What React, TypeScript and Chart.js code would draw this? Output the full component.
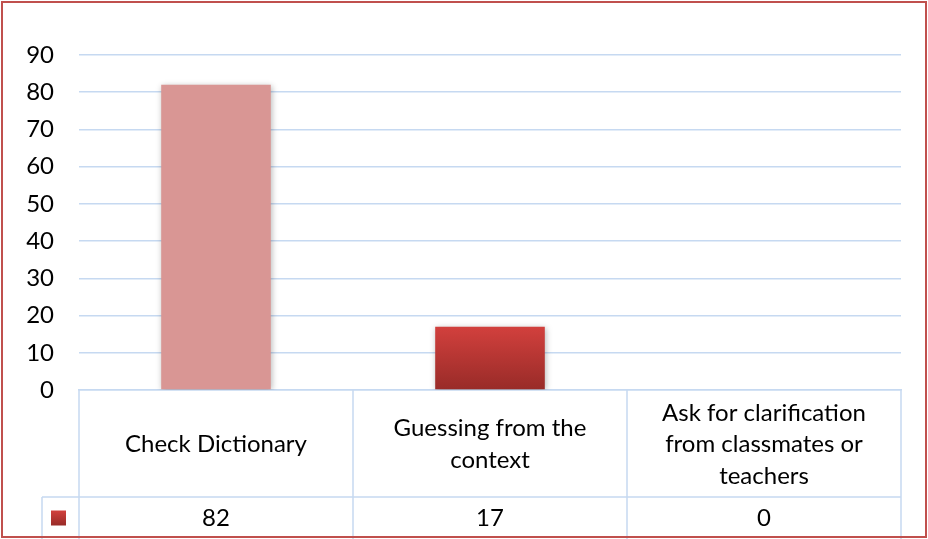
import { useEffect, useRef } from "react";
import { Chart, registerables } from "chart.js";

Chart.register(...registerables);

// ---- data ----
const categories: string[][] = [
  ["Check Dictionary"],
  ["Guessing from the", "context"],
  ["Ask for clarification", "from classmates or", "teachers"],
];
const values: number[] = [82, 17, 0];
const yMin = 0;
const yMax = 90;
const yStep = 10;

// ---- styles ----
const FONT = "Lato, 'Liberation Sans', sans-serif";
const FONT_SIZE = 24;
const TEXT = "#000000";
const GRID = "#C6D9F1";
const BAR1 = "#D99694";
const RED_TOP = "#D2403D";
const RED_BOTTOM = "#982B28";
const FRAME = "#C0504D";

const tablePlugin = {
  id: "dataTable",
  beforeDatasetsDraw(chart: any) {
    const ctx = chart.ctx;
    ctx.save();
    ctx.shadowColor = "rgba(0,0,0,0.28)";
    ctx.shadowBlur = 6;
    ctx.shadowOffsetX = 1;
    ctx.shadowOffsetY = 1;
  },
  afterDatasetsDraw(chart: any) {
    chart.ctx.restore();
  },
  afterDraw(chart: any) {
    const ctx = chart.ctx;
    const xs = chart.scales.x;
    const area = chart.chartArea;
    const n = categories.length;
    const step = (area.right - area.left) / n;
    const tableTop = area.bottom;
    const rowTop = xs.bottom;
    const bottom = chart.height;
    ctx.save();
    ctx.strokeStyle = GRID;
    ctx.lineWidth = 1.5;
    // vertical lines
    for (let i = 0; i <= n; i++) {
      const x = area.left + i * step;
      ctx.beginPath();
      ctx.moveTo(x, tableTop);
      ctx.lineTo(x, bottom);
      ctx.stroke();
    }
    const keyLeft = area.left - 37;
    // value row line
    ctx.beginPath();
    ctx.moveTo(keyLeft, rowTop);
    ctx.lineTo(area.right, rowTop);
    ctx.stroke();
    ctx.beginPath();
    ctx.moveTo(keyLeft, rowTop);
    ctx.lineTo(keyLeft, bottom);
    ctx.stroke();
    // legend key
    const rowMid = rowTop + 21;
    const ks = 15;
    const kx = keyLeft + 9;
    const g = ctx.createLinearGradient(0, rowMid - ks / 2, 0, rowMid + ks / 2);
    g.addColorStop(0, RED_TOP);
    g.addColorStop(1, RED_BOTTOM);
    ctx.fillStyle = g;
    ctx.fillRect(kx, rowMid - ks / 2, ks, ks);
    // values
    ctx.fillStyle = TEXT;
    ctx.font = `${FONT_SIZE}px ${FONT}`;
    ctx.textAlign = "center";
    ctx.textBaseline = "middle";
    values.forEach((v, i) => {
      ctx.fillText(String(v), xs.getPixelForValue(i), rowMid);
    });
    ctx.restore();
  },
};

export default function App() {
  const ref = useRef<HTMLCanvasElement>(null);
  useEffect(() => {
    if (!ref.current) return;
    const chart = new Chart(ref.current, {
      type: "bar",
      data: {
        labels: categories as any,
        datasets: [
          {
            data: values,
            backgroundColor: (c: any) => {
              if (c.dataIndex === 0) return BAR1;
              const chart = c.chart;
              const ys = chart.scales?.y;
              if (!ys || !chart.chartArea) return RED_TOP;
              const top = ys.getPixelForValue(c.raw ?? 0);
              const bot = ys.getPixelForValue(0);
              if (!(bot > top)) return RED_TOP;
              const g = chart.ctx.createLinearGradient(0, top, 0, bot);
              g.addColorStop(0, RED_TOP);
              g.addColorStop(1, RED_BOTTOM);
              return g;
            },
            borderWidth: 0,
            barPercentage: 0.4,
            categoryPercentage: 1,
          },
        ],
      },
      options: {
        animation: false,
        responsive: true,
        maintainAspectRatio: false,
        layout: { padding: { top: 55, right: 27, bottom: 42, left: 0 } },
        plugins: {
          legend: { display: false },
          tooltip: { enabled: false },
          title: { display: false },
        },
        scales: {
          x: {
            grid: { display: false },
            border: { display: true, color: GRID, width: 1.5 },
            ticks: {
              color: TEXT,
              font: { family: FONT, size: FONT_SIZE, lineHeight: "31.5px" },
              maxRotation: 0,
              minRotation: 0,
              autoSkip: false,
              crossAlign: "center",
              padding: 15,
            },
            afterFit: (s: any) => {
              s.height = 107;
            },
          },
          y: {
            min: yMin,
            max: yMax,
            grid: { color: GRID, lineWidth: 1.5, drawTicks: false },
            border: { display: false },
            ticks: {
              stepSize: yStep,
              color: TEXT,
              font: { family: FONT, size: FONT_SIZE },
              padding: 25,
            },
            afterFit: (s: any) => {
              s.width = 79;
            },
          },
        },
      },
      plugins: [tablePlugin],
    });
    return () => chart.destroy();
  }, []);
  return (
    <div style={{ position: "fixed", left: 0, top: 0, width: 928, height: 539, background: "#fff" }}>
      <canvas ref={ref} />
      <div
        style={{
          position: "absolute",
          left: 1,
          top: 1,
          width: 926,
          height: 537,
          boxSizing: "border-box",
          border: `2px solid ${FRAME}`,
          pointerEvents: "none",
        }}
      />
    </div>
  );
}
